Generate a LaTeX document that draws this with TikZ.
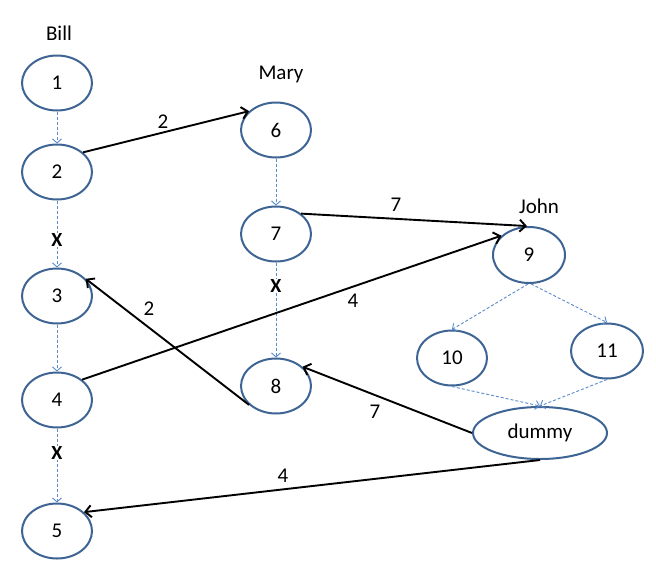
\documentclass[tikz,border=0pt]{standalone}
\usepackage{fontspec}
\setmainfont{Carlito}
\usetikzlibrary{arrows.meta,shapes.geometric}
\definecolor{nodeblue}{HTML}{3E6494}
\definecolor{dashblue}{HTML}{5B8BC9}
\tikzset{
  ev/.style={ellipse, draw=nodeblue, line width=2pt, minimum width=70pt, minimum height=55pt, inner sep=0pt, font=\fontsize{21}{24}\selectfont},
  lbl/.style={inner sep=0pt, font=\fontsize{21}{24}\selectfont},
  xlbl/.style={inner sep=0pt, font=\fontsize{20}{24}\selectfont\bfseries},
  seq/.style={draw=dashblue, line width=0.9pt, dash pattern=on 3pt off 2pt, -{Straight Barb[length=4pt,width=9pt,line width=0.9pt]}},
  msg/.style={draw=black, line width=1.9pt, -{Straight Barb[length=6pt,width=12pt,line width=1.9pt]}}
}
\begin{document}
\begin{tikzpicture}[x=1pt,y=-1pt]
\useasboundingbox (0,0) rectangle (656,571);
% names
\node[lbl] (bill) at (59,33) {Bill};
\node[lbl] (mary) at (281,74) {Mary};
\node[lbl] (john) at (539,206) {John};
% nodes
\node[ev] (n1) at (57,83) {1};
\node[ev] (n2) at (57,172) {2};
\node[ev] (n3) at (57,296) {3};
\node[ev] (n4) at (57,400) {4};
\node[ev] (n5) at (57,531) {5};
\node[ev] (n6) at (276,130) {6};
\node[ev] (n7) at (276,234) {7};
\node[ev] (n8) at (276,386) {8};
\node[ev, minimum width=72pt, minimum height=56pt] (n9) at (529,255) {9};
\node[ev] (n10) at (452,358) {10};
\node[ev, minimum width=72pt] (n11) at (607,351) {11};
\node[ev, minimum width=134pt, minimum height=52pt] (dummy) at (540,433) {dummy};
% dashed sequence arrows
\draw[seq] (n1) -- (n2);
\draw[seq] (n2) -- (n3);
\draw[seq] (n3) -- (n4);
\draw[seq] (n4) -- (n5);
\draw[seq] (n6) -- (n7);
\draw[seq] (n7) -- (n8);
\draw[seq] (n9.268) -- (n10.north);
\draw[seq] (n9.274) -- (n11.north);
\draw[seq] (n10.south) -- (dummy.north);
\draw[seq] (n11.south) -- (dummy.north);
% X marks
\node[xlbl, fill=white, inner sep=1pt] (x1) at (57,240) {X};
\node[xlbl, fill=white, inner sep=1pt] (x2) at (57,453) {X};
\node[xlbl, fill=white, inner sep=1pt] (x3) at (276,286) {X};
% message arrows
\draw[msg] (n2.37) -- (n6.145);
\draw[msg] (n7.39) -- (n9.94);
\draw[msg] (n4.39) -- (n9.145);
\draw[msg] (n8.215) -- (n3.31);
\draw[msg] (dummy.west) -- (n8.36);
\draw[msg] (dummy.south) -- (n5.35);
% weights
\node[lbl] (w1) at (163,122) {2};
\node[lbl] (w2) at (396,205) {7};
\node[lbl] (w3) at (353,301) {4};
\node[lbl] (w4) at (149,309) {2};
\node[lbl] (w5) at (375,412) {7};
\node[lbl] (w6) at (283,476) {4};
\end{tikzpicture}
\end{document}
